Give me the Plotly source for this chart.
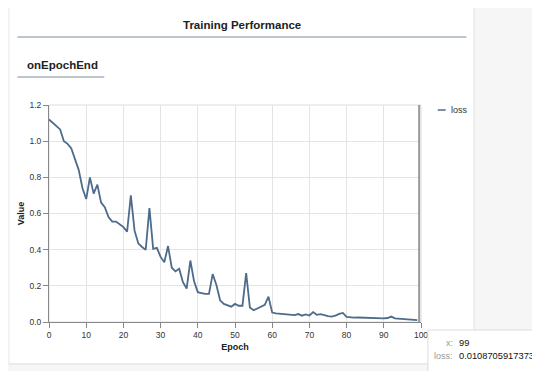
import plotly.graph_objects as go

epochs = list(range(100))
loss = [
    1.12, 1.10, 1.08, 1.065, 1.00, 0.985, 0.96, 0.90, 0.84, 0.74,
    0.68, 0.80, 0.71, 0.76, 0.66, 0.635, 0.58, 0.555, 0.555, 0.54,
    0.525, 0.50, 0.70, 0.505, 0.435, 0.415, 0.40, 0.63, 0.405, 0.41,
    0.36, 0.33, 0.42, 0.30, 0.28, 0.295, 0.22, 0.185, 0.34, 0.225,
    0.165, 0.16, 0.155, 0.155, 0.265, 0.205, 0.12, 0.10, 0.093, 0.085,
    0.10, 0.09, 0.09, 0.27, 0.08, 0.065, 0.075, 0.085, 0.095, 0.14,
    0.052, 0.048, 0.046, 0.044, 0.042, 0.04, 0.038, 0.044, 0.035, 0.042,
    0.036, 0.055, 0.04, 0.043, 0.036, 0.032, 0.03, 0.035, 0.045, 0.05,
    0.028, 0.025, 0.024, 0.025, 0.024, 0.023, 0.022, 0.023, 0.021, 0.02,
    0.02, 0.022, 0.03, 0.02, 0.018, 0.017, 0.016, 0.015, 0.013, 0.0108705917373,
]
hover_x = 99
hover_loss_text = "0.0108705917373"
title_text = "Training Performance"
tab_text = "onEpochEnd"
series_name = "loss"
x_title = "Epoch"
y_title = "Value"

WIN_W, WIN_H = 540, 371
OFF = 8  # page body margin around the figure
W, H = WIN_W - OFF, WIN_H - OFF
L, R, T, B = 44, 421, 105, 322  # plot area in window pixels
FONT = "Liberation Sans, Arial, Helvetica, sans-serif"
LINE_COLOR = "#4d6b8a"


def px(x):
    return (x - L) / (R - L)


def py(y):
    return (B - y) / (B - T)


fig = go.Figure()
fig.add_trace(go.Scatter(
    x=epochs, y=loss, mode="lines", name=series_name,
    line=dict(color=LINE_COLOR, width=1.8), showlegend=False,
))

shapes = []
# card shadow + card
shapes.append(dict(type="rect", xref="paper", yref="paper", layer="below",
                   x0=px(3), x1=px(475.5), y0=py(2.5), y1=py(365),
                   fillcolor="#ebebeb", line=dict(width=0)))
shapes.append(dict(type="rect", xref="paper", yref="paper", layer="below",
                   x0=px(4), x1=px(474), y0=py(4), y1=py(363),
                   fillcolor="white", line=dict(width=0)))
# title underline
shapes.append(dict(type="line", xref="paper", yref="paper", layer="below",
                   x0=px(12), x1=px(467), y0=py(37), y1=py(37),
                   line=dict(color="#a9b3bd", width=1.5)))
# tab underline
shapes.append(dict(type="line", xref="paper", yref="paper", layer="below",
                   x0=px(12), x1=px(100), y0=py(77), y1=py(77),
                   line=dict(color="#a9b3bd", width=1.5)))
# plot view border
shapes.append(dict(type="rect", xref="paper", yref="paper", layer="below",
                   x0=0, x1=1, y0=0, y1=1,
                   line=dict(color="#dddddd", width=1)))
# hover rule
shapes.append(dict(type="line", xref="x", yref="paper", layer="above",
                   x0=hover_x + 0.5, x1=hover_x + 0.5, y0=0, y1=1,
                   line=dict(color="#9a9a9a", width=2)))
# legend symbol
shapes.append(dict(type="line", xref="paper", yref="paper", layer="above",
                   x0=px(438), x1=px(446), y0=py(110), y1=py(110),
                   line=dict(color=LINE_COLOR, width=1.5)))
# tooltip box
shapes.append(dict(type="rect", xref="paper", yref="paper", layer="above",
                   x0=px(428), x1=px(550), y0=py(330), y1=py(380),
                   fillcolor="white", line=dict(color="#dcdcdc", width=1)))

annotations = [
    dict(text="<b>%s</b>" % title_text, x=px(240), y=py(25), xref="paper", yref="paper",
         showarrow=False, xanchor="center", yanchor="middle",
         font=dict(family=FONT, size=11.5, color="#222222")),
    dict(text="<b>%s</b>" % tab_text, x=px(20), y=py(65), xref="paper", yref="paper",
         showarrow=False, xanchor="left", yanchor="middle",
         font=dict(family=FONT, size=11.5, color="#222222")),
    dict(text=series_name, x=px(449), y=py(110), xref="paper", yref="paper",
         showarrow=False, xanchor="left", yanchor="middle",
         font=dict(family=FONT, size=9, color="#333333")),
    dict(text="x:", x=px(455), y=py(343), xref="paper", yref="paper",
         showarrow=False, xanchor="right", yanchor="middle",
         font=dict(family=FONT, size=9, color="#999999")),
    dict(text=str(hover_x), x=px(457), y=py(343), xref="paper", yref="paper",
         showarrow=False, xanchor="left", yanchor="middle",
         font=dict(family=FONT, size=9.3, color="#111111")),
    dict(text="loss:", x=px(455), y=py(356), xref="paper", yref="paper",
         showarrow=False, xanchor="right", yanchor="middle",
         font=dict(family=FONT, size=9, color="#999999")),
    dict(text=hover_loss_text, x=px(457), y=py(356), xref="paper", yref="paper",
         showarrow=False, xanchor="left", yanchor="middle",
         font=dict(family=FONT, size=9.3, color="#111111")),
]

fig.update_layout(
    width=W, height=H,
    margin=dict(l=L - OFF, r=WIN_W - R, t=T - OFF, b=WIN_H - B, pad=0),
    paper_bgcolor="#f6f6f6",
    plot_bgcolor="rgba(0,0,0,0)",
    shapes=shapes,
    annotations=annotations,
    showlegend=False,
    font=dict(family=FONT, size=8.5, color="#333333"),
    xaxis=dict(
        range=[0, 100], dtick=10, tick0=0,
        showgrid=True, gridcolor="#e4e4e4", gridwidth=1,
        showline=True, linecolor="#888888", linewidth=1,
        ticks="outside", ticklen=5, tickcolor="#888888",
        tickfont=dict(family=FONT, size=8.5, color="#333333"),
        zeroline=False,
        title=dict(text="<b>%s</b>" % x_title, standoff=4,
                   font=dict(family=FONT, size=9, color="#222222")),
    ),
    yaxis=dict(
        range=[0, 1.2], dtick=0.2, tick0=0, tickformat=".1f",
        showgrid=True, gridcolor="#e4e4e4", gridwidth=1,
        showline=True, linecolor="#888888", linewidth=1,
        ticks="outside", ticklen=5, tickcolor="#888888",
        tickfont=dict(family=FONT, size=8.5, color="#333333"),
        zeroline=False,
        title=dict(text="<b>%s</b>" % y_title, standoff=3,
                   font=dict(family=FONT, size=9, color="#222222")),
    ),
)

fig.write_html("out.html")
